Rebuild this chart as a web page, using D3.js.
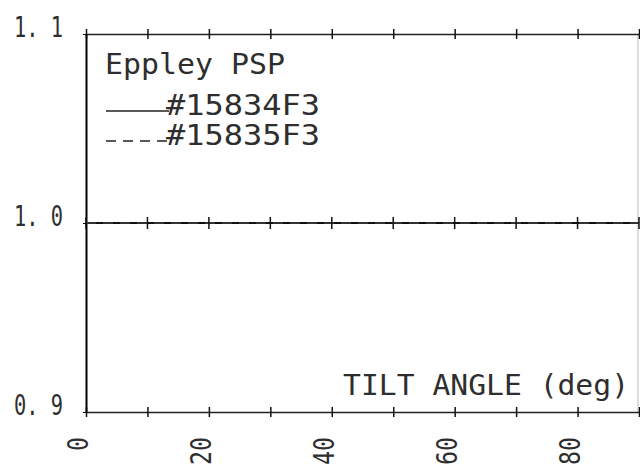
<!DOCTYPE html>
<html>
<head>
<meta charset="utf-8">
<script src="https://cdn.jsdelivr.net/npm/d3@7"></script>
<style>
  body { margin: 0; background: #fff; }
  text { font-family: "DejaVu Sans Mono", "Liberation Mono", monospace; fill: #2e2e2e; }
</style>
</head>
<body>
<div id="chart"></div>
<script>
"use strict"

// tilt angles (deg) and normalised response of the two sensors
let tiltAngles = [0, 10, 20, 30, 40, 50, 60, 70, 80, 90];
let sensorA = [1.0, 1.0, 1.0, 1.0, 1.0, 1.0, 1.0, 1.0, 1.0, 1.0];
let sensorB = [1.0, 1.0, 1.0, 1.0, 1.0, 1.0, 1.0, 1.0, 1.0, 1.0];
let seriesNames = ["#15834F3", "#15835F3"];
let xTickLabels = [0, 20, 40, 60, 80];
let yTickLabels = [0.9, 1.0, 1.1];
let titleText = "Eppley PSP";
let xTitle = "TILT ANGLE (deg)";

let drawing = d3.select("#chart")
    .append("svg")
    .attr("width", 640)
    .attr("height", 473);

let x = d3.scaleLinear().domain([0, 90]).range([86, 639]);
let y = d3.scaleLinear().domain([0.9, 1.1]).range([412, 34]);

// faint right edge of the frame
drawing.append("line")
    .attr("x1", 638).attr("x2", 638)
    .attr("y1", y(1.1)).attr("y2", y(0.9))
    .attr("stroke", "#bbb")
    .attr("stroke-width", 1);

// top and bottom axes with crossing ticks every 10 deg
function crossAxis(yPos) {
    let g = drawing.append("g")
        .attr("transform", "translate(0," + yPos + ")")
        .call(d3.axisBottom(x).tickValues(tiltAngles).tickSize(6).tickSizeOuter(0).tickFormat(""));
    g.select(".domain").attr("stroke", "#222").attr("stroke-width", 1.5);
    g.selectAll(".tick line").attr("y1", -5).attr("y2", 5).attr("stroke", "#111").attr("stroke-width", 1.5);
    return g;
}
crossAxis(y(1.1));
crossAxis(y(0.9));

// left axis
let yAxis = drawing.append("g")
    .attr("transform", "translate(" + x(0) + ",0)")
    .call(d3.axisLeft(y).tickValues(yTickLabels).tickSize(3).tickSizeOuter(0)
        .tickFormat(d => d3.format(".1f")(d).replace(".", ". ")));
yAxis.select(".domain").attr("stroke", "#000").attr("stroke-width", 2);
yAxis.selectAll(".tick text")
    .attr("text-anchor", "start")
    .attr("x", 14 - x(0))
    .attr("dy", "0.1em")
    .attr("font-size", 28)
    .attr("textLength", 49)
    .attr("lengthAdjust", "spacingAndGlyphs")
    .style("font-family", "'DejaVu Sans Mono', monospace")
    .style("fill", "#2e2e2e");

// rotated x tick labels, reading upward
drawing.selectAll(".xlab")
    .data(xTickLabels)
    .enter().append("text")
    .attr("class", "xlab")
    .attr("transform", d => "translate(" + (x(d) + 2) + ",437) rotate(-90)")
    .attr("text-anchor", "end")
    .attr("font-size", 28)
    .attr("textLength", d => String(d).length * 14)
    .attr("lengthAdjust", "spacingAndGlyphs")
    .text(d => d);

// the two data series
let line = d3.line()
    .x((d, i) => x(tiltAngles[i]))
    .y(d => y(d));

drawing.append("path")
    .datum(sensorA)
    .attr("d", line)
    .attr("fill", "none")
    .attr("stroke", "#111")
    .attr("stroke-width", 2);

drawing.append("path")
    .datum(sensorB)
    .attr("d", line)
    .attr("fill", "none")
    .attr("stroke", "#333")
    .attr("stroke-width", 2)
    .attr("stroke-dasharray", "10,7");

// point markers on the series
drawing.selectAll(".mark")
    .data(sensorA)
    .enter().append("line")
    .attr("class", "mark")
    .attr("x1", (d, i) => x(tiltAngles[i]))
    .attr("x2", (d, i) => x(tiltAngles[i]))
    .attr("y1", d => y(d) - 6)
    .attr("y2", d => y(d) + 6)
    .attr("stroke", "#111")
    .attr("stroke-width", 1.5);

// legend
drawing.append("text")
    .attr("x", 105).attr("y", 74)
    .attr("font-size", 28)
    .attr("textLength", 180)
    .attr("lengthAdjust", "spacingAndGlyphs")
    .text(titleText);

let dashes = [null, "10,7"];
seriesNames.forEach(function (name, i) {
    let ly = 115 + i * 30;
    drawing.append("line")
        .attr("x1", 106).attr("x2", 169)
        .attr("y1", ly - 4).attr("y2", ly - 4)
        .attr("stroke", "#222")
        .attr("stroke-width", 1.5)
        .attr("stroke-dasharray", dashes[i]);
    drawing.append("text")
        .attr("x", 166).attr("y", ly)
        .attr("font-size", 28)
        .attr("textLength", 154)
        .attr("lengthAdjust", "spacingAndGlyphs")
        .text(name);
});

// axis title inside the plot
drawing.append("text")
    .attr("x", 343).attr("y", 395)
    .attr("font-size", 28)
    .attr("textLength", 286)
    .attr("lengthAdjust", "spacingAndGlyphs")
    .text(xTitle);
</script>
</body>
</html>
